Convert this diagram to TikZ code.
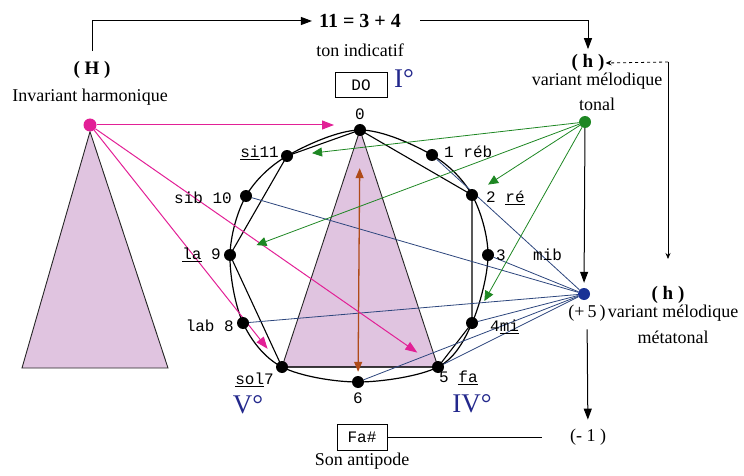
\documentclass[tikz,border=0pt]{standalone}
\usepackage{fontspec}
\setmainfont{Liberation Serif}
\setmonofont{Liberation Mono}
\usetikzlibrary{arrows.meta,positioning}
\definecolor{hpink}{RGB}{226,32,150}
\definecolor{tgreen}{RGB}{30,135,35}
\definecolor{mblue}{RGB}{25,50,150}
\definecolor{mline}{RGB}{45,70,125}
\definecolor{antibrown}{RGB}{175,75,25}
\definecolor{degblue}{RGB}{35,40,140}
\definecolor{lilac}{RGB}{224,196,224}
\pgfdeclarelayer{bg}
\pgfsetlayers{bg,main}
\begin{document}
\begin{tikzpicture}[x=1pt,y=-1pt,every node/.style={font=\fontsize{18}{20}\selectfont,inner sep=1pt},dot/.style={circle,fill=black,inner sep=0pt,minimum size=12pt},pc/.style={font=\ttfamily\fontsize{16}{18}\selectfont},ttl/.style={font=\bfseries\fontsize{19}{21}\selectfont},deg/.style={font=\fontsize{27}{29}\selectfont,text=degblue},tri/.style={draw=black!85,fill=lilac,line width=0.9pt},arrow/.style={-{Triangle[length=11pt,width=8pt]},line width=1pt},parr/.style={-{Triangle[length=12pt,width=9pt]},hpink,line width=1pt},garr/.style={-{Triangle[length=10pt,width=9pt]},tgreen,line width=0.8pt,shorten >=19pt},mlink/.style={mline,line width=0.8pt},fbarr/.style={-{Stealth[length=6pt,width=5pt]},line width=0.8pt}]
\useasboundingbox (0,0) rectangle (744,476);
% harmonic invariant
\node[ttl] (H) at (92,70) {( H )};
\node (Hi) at (90,97) {Invariant harmonique};
\node[dot,fill=hpink,minimum size=13pt] (Hd) at (90,125) {};
% top sum
\node[ttl,font=\bfseries\fontsize{20}{22}\selectfont] (eq) at (360,21) {11 = 3 + 4};
\node (ti) at (360,50) {ton indicatif};
\node[draw,pc,minimum width=52pt,minimum height=25pt,line width=0.9pt] (do) at (361,85) {DO};
\node[deg] (I) at (404,79) {I°};
% tonal melodic variant
\node[ttl] (hT) at (588,63) {( h )};
\node (vt) at (597,81) {variant mélodique};
\node (tl) at (597,104) {tonal};
\node[dot,fill=tgreen] (G) at (585,122) {};
% metatonal melodic variant
\node[dot,fill=mblue] (B) at (584,294) {};
\node[ttl] (hM) at (668,295) {( h )};
\node (p5) at (587,313) {(+\,5\,)};
\node[right=0pt of p5] (vm) {variant mélodique};
\node (mt) at (673,337) {métatonal};
\node (m1) at (588,437) {(- 1 )};
% antipode
\node[draw,pc,minimum width=50pt,minimum height=26pt,line width=0.9pt] (fa) at (362,437) {Fa\#};
\node[below=1pt of fa] (sa) {Son antipode};
% the twelve pitch classes
\foreach \i/\x/\y in {0/360/130,1/432/155,2/472/195,3/488/255,4/472/323,5/438/367,6/358/382,7/282/367,8/243/323,9/230/255,10/246/196,11/287/156}
  \node[dot] (n\i) at (\x,\y) {};
\node[pc,above=3pt of n0] (l0) {0};
\node[pc,anchor=west] (l1) at (443,152) {1 réb};
\node[pc,anchor=west] (l2) at (485,198) {2 \underline{ré}};
\node[pc,anchor=west] (l3) at (495,255) {3};
\node[pc,anchor=west] (mib) at (532,255) {mib};
\node[pc,anchor=west] (l4) at (489,327) {4\underline{mi}};
\node[pc,anchor=west] (l5) at (438,378) {5 \underline{fa}};
\node[pc,below=3pt of n6] (l6) {6};
\node[pc,anchor=east] (l7) at (275,380) {\underline{sol}7};
\node[pc,anchor=east] (l8) at (235,326) {lab 8};
\node[pc,anchor=east] (l9) at (222,255) {\underline{la} 9};
\node[pc,anchor=east] (l10) at (233,198) {sib 10};
\node[pc,anchor=east] (l11) at (280,153) {\underline{si}11};
\node[deg] (V) at (248,405) {V°};
\node[deg] (IV) at (472,404) {IV°};
\coordinate (Ht) at (334,125);
\coordinate (fb) at (668,62);
\coordinate (fe) at (668,259);
\begin{pgfonlayer}{bg}
\draw[tri] (Hd.south) -- (22,368) -- (168,368) -- cycle;
\draw[tri] (n0.center) -- (n7.center) -- (n5.center) -- cycle;
\draw[line width=1.2pt] plot[smooth cycle,tension=0.55] coordinates {(n0.center) (n1.center) (n2.center) (n3.center) (n4.center) (n5.center) (n6.center) (n7.center) (n8.center) (n9.center) (n10.center) (n11.center)};
\draw[line width=1.1pt] (n0.center) -- (n2.center) -- (n4.center) -- (n5.center) -- (n7.center) -- (n9.center) -- (n11.center) -- cycle;
\foreach \k in {1,3,4,5,6,8,10} \draw[mlink] (B) -- (n\k);
\draw[{Triangle[length=10pt,width=8pt]}-{Triangle[length=10pt,width=8pt]},antibrown,line width=1.3pt,shorten <=32pt,shorten >=4pt] (n0) -- (n6);
\draw[parr] (Hd) -- (Ht);
\draw[parr,shorten >=17pt] (Hd) -- (n7);
\draw[parr,shorten >=19pt] (Hd) -- (n5);
\draw[garr] (G) -- (n11);
\draw[garr,shorten >=22pt] (G) -- (n9);
\draw[garr,shorten >=13pt] (G) -- (n2);
\draw[garr] (G) -- (n4);
\end{pgfonlayer}
% links between the labels
\draw[arrow,shorten <=9pt,shorten >=6pt] (H.north) |- (eq.west);
\draw[arrow,shorten <=18pt,shorten >=4pt] (eq.east) -| (hT.north);
\draw[fbarr,dashed] (fb) -- (hT.east);
\draw[fbarr] (fb) -- (fe);
\draw[arrow,shorten >=5pt] (G) -- (B);
\draw[arrow,shorten <=7pt,shorten >=8pt] (p5) -- (m1);
\draw[line width=1pt,shorten >=27pt] (fa) -- (m1);
\end{tikzpicture}
\end{document}
